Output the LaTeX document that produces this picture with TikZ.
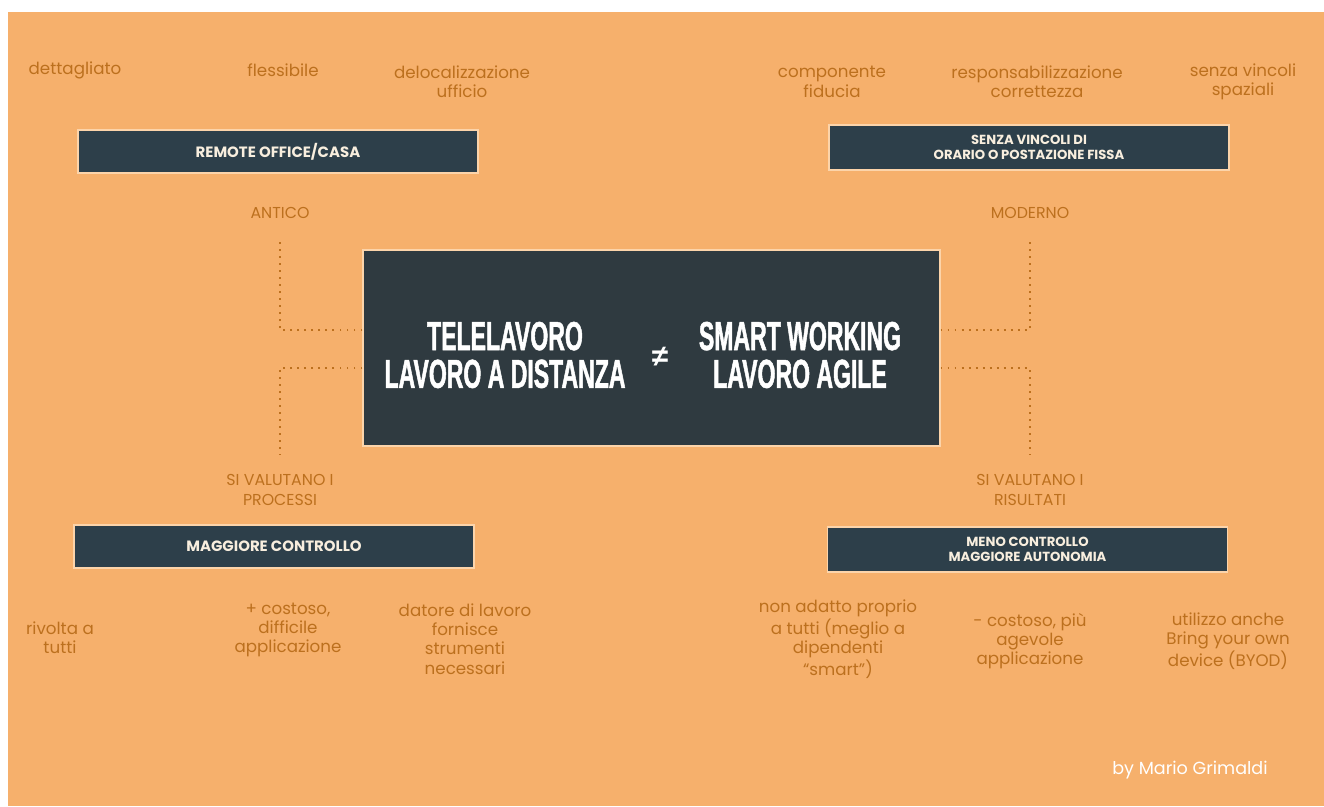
\documentclass[tikz,border=0pt]{standalone}
\usepackage{fontspec}
\setmainfont{Poppins}
\newfontfamily\titlefont[FakeStretch=0.57,FakeBold=1.2]{Liberation Sans}
\newfontfamily\symbfont{Liberation Sans}
\definecolor{bgorange}{RGB}{246,176,108}
\definecolor{notecol}{RGB}{188,112,30}
\definecolor{boxcol}{RGB}{45,63,74}
\definecolor{maincol}{RGB}{47,58,64}
\definecolor{boxedge}{RGB}{252,212,170}
\definecolor{boxtext}{RGB}{248,238,222}
\tikzstyle{note}=[text=notecol, align=center, inner sep=1pt, font=\fontsize{9.5}{11}\selectfont]
\tikzstyle{capsnote}=[note, font=\fontsize{9}{11}\selectfont]
\tikzstyle{darkbox}=[fill=boxcol, draw=boxedge, line width=0.8pt, text=boxtext, align=center, minimum width=8cm, minimum height=0.86cm, font=\bfseries\fontsize{8.5}{9.5}\selectfont]
\tikzstyle{twoline}=[minimum height=0.9cm, font=\bfseries\fontsize{7.5}{8.5}\selectfont]
\tikzstyle{mainbox}=[fill=maincol, draw=boxedge, line width=0.8pt, minimum width=11.54cm, minimum height=3.92cm]
\tikzstyle{titletext}=[text=white, align=center, inner sep=0pt, font=\titlefont\bfseries\fontsize{23}{21.5}\selectfont]
\tikzstyle{dotline}=[draw=notecol, line width=1pt, dash pattern=on 1pt off 3pt]

\begin{document}
\begin{tikzpicture}[x=0.02cm,y=-0.02cm]
	\useasboundingbox (0,0) rectangle (1324,806);
	\fill[white] (0,0) rectangle (1324,806);
	\fill[bgorange] (8,12) rectangle (1324,806);
	% centre
	\node[mainbox] (central) at (651.5,348) {};
	\node[titletext] (tele) at (505,355) {TELELAVORO\\LAVORO A DISTANZA};
	\node[text=white, inner sep=0pt, font=\symbfont\bfseries\fontsize{17}{17}\selectfont] (neq) at (660,357) {≠};
	\node[titletext] (smart) at (800,355) {SMART WORKING\\LAVORO AGILE};
	% boxes
	\node[darkbox] (remote) at (278,151.5) {REMOTE OFFICE/CASA};
	\node[darkbox, twoline] (senza) at (1029,147.5) {SENZA VINCOLI DI\\ORARIO O POSTAZIONE FISSA};
	\node[darkbox] (controllo) at (274,546.5) {MAGGIORE CONTROLLO};
	\node[darkbox, twoline] (autonomia) at (1027.5,549.5) {MENO CONTROLLO\\MAGGIORE AUTONOMIA};
	% labels
	\node[capsnote] (antico) at (280,213) {ANTICO};
	\node[capsnote] (moderno) at (1030,213) {MODERNO};
	\node[capsnote] (processi) at (280,490) {SI VALUTANO I\\PROCESSI};
	\node[capsnote] (risultati) at (1030,490) {SI VALUTANO I\\RISULTATI};
	% notes
	\foreach \x/\y/\t [count=\i] in {75/70/{dettagliato}, 283/70/{flessibile}, 462/82/{delocalizzazione\\ufficio}, 832/82/{componente\\fiducia}, 1037/82/{responsabilizzazione\\correttezza}, 1243/82/{senza vincoli\\spaziali}}
		\node[note] (top-\i) at (\x,\y) {\t};
	\foreach \x/\y/\t [count=\i] in {60/638/{rivolta a\\tutti}, 288/630/{+ costoso,\\difficile\\applicazione}, 465/639/{datore di lavoro\\fornisce\\strumenti\\necessari}, 838/639/{non adatto proprio\\a tutti (meglio a\\dipendenti\\``smart'')}, 1030/641/{- costoso, più\\agevole\\applicazione}, 1228/641/{utilizzo anche\\Bring your own\\device (BYOD)}}
		\node[note] (bot-\i) at (\x,\y) {\t};
	\node[text=white, font=\fontsize{10}{12}\selectfont] (autore) at (1190,770) {by Mario Grimaldi};
	% dotted links
	\draw[dotline] ([yshift=0.36cm]central.west) -| ([yshift=-0.4cm]antico.south);
	\draw[dotline] ([yshift=-0.4cm]central.west) -| ([yshift=0.35cm]processi.north);
	\draw[dotline] ([yshift=0.36cm]central.east) -| ([yshift=-0.4cm]moderno.south);
	\draw[dotline] ([yshift=-0.4cm]central.east) -| ([yshift=0.35cm]risultati.north);
\end{tikzpicture}
\end{document}
